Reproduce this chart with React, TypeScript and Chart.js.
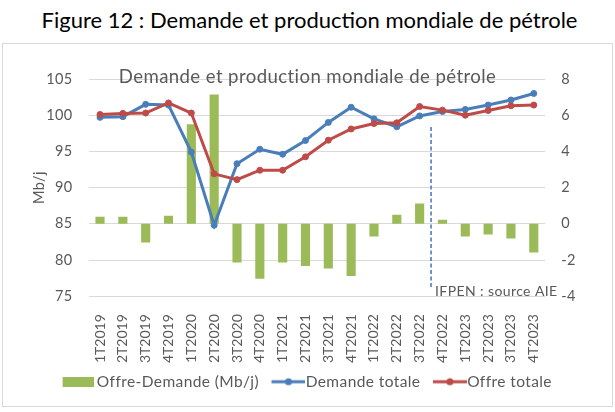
import React, { useEffect, useRef } from 'react';
import { Chart, registerables } from 'chart.js';

Chart.register(...registerables);

const FONT = 'Lato, "Liberation Sans", sans-serif';
const TEXT_GRAY = '#595959';
const GRID_GRAY = '#d9d9d9';
const GREEN = '#9BBB59';
const BLUE = '#4A7EBB';
const RED = '#BE4B48';
const DASH_BLUE = '#4472C4';

const pageTitle = 'Figure 12 : Demande et production mondiale de pétrole';
const chartTitle = 'Demande et production mondiale de pétrole';
const sourceText = 'IFPEN : source AIE';
const leftAxisTitle = 'Mb/j';

const categories = [
  '1T2019', '2T2019', '3T2019', '4T2019',
  '1T2020', '2T2020', '3T2020', '4T2020',
  '1T2021', '2T2021', '3T2021', '4T2021',
  '1T2022', '2T2022', '3T2022', '4T2022',
  '1T2023', '2T2023', '3T2023', '4T2023',
];

const demandeTotale = [
  99.7, 99.8, 101.5, 101.4,
  94.9, 84.8, 93.3, 95.3,
  94.6, 96.5, 99.0, 101.1,
  99.5, 98.4, 99.9, 100.5,
  100.8, 101.4, 102.1, 103.0,
];

const offreTotale = [
  100.1, 100.25, 100.3, 101.7,
  100.3, 91.9, 91.1, 92.4,
  92.4, 94.25, 96.55, 98.1,
  98.85, 98.95, 101.2, 100.7,
  100.0, 100.65, 101.3, 101.4,
];

const offreMoinsDemande = [
  0.39, 0.39, -1.03, 0.45,
  5.5, 7.14, -2.14, -3.03,
  -2.14, -2.33, -2.47, -2.88,
  -0.7, 0.5, 1.12, 0.22,
  -0.7, -0.59, -0.81, -1.59,
];

const leftMin = 75;
const leftMax = 105;
const leftStep = 5;
const rightMin = -4;
const rightMax = 8;
const rightStep = 2;

// forecast separator (between 3T2022 and 4T2022), in category index / right-axis units
const separatorIndex = 14.5;
const separatorTop = 5.35;
const separatorBottom = -3.5;

const legendLabels = ['Offre-Demande (Mb/j)', 'Demande totale', 'Offre totale'];

const BASE_SPACING = '0.4px';
const XTICK_SPACING = '0px';

export default function App() {
  const canvasRef = useRef<HTMLCanvasElement | null>(null);

  useEffect(() => {
    const canvas = canvasRef.current;
    if (!canvas) return;

    const makeLineIcon = (color: string) => {
      const c = document.createElement('canvas');
      c.width = 41;
      c.height = 10;
      const g = c.getContext('2d')!;
      g.strokeStyle = color;
      g.lineWidth = 3;
      g.beginPath();
      g.moveTo(7, 5);
      g.lineTo(41, 5);
      g.stroke();
      g.fillStyle = color;
      g.beginPath();
      g.arc(24, 5, 3.5, 0, Math.PI * 2);
      g.fill();
      return c;
    };
    const makeBoxIcon = (color: string) => {
      const c = document.createElement('canvas');
      c.width = 35;
      c.height = 10;
      const g = c.getContext('2d')!;
      g.fillStyle = color;
      g.fillRect(4, 0, 31, 10);
      return c;
    };
    const icons = [makeBoxIcon(GREEN), makeLineIcon(BLUE), makeLineIcon(RED)];

    const setSpacing = (ctx: any, v: string) => {
      if ('letterSpacing' in ctx) ctx.letterSpacing = v;
    };

    const overlayPlugin = {
      id: 'overlay',
      beforeUpdate(chart: any) {
        setSpacing(chart.ctx, BASE_SPACING);
      },
      beforeDraw(chart: any) {
        setSpacing(chart.ctx, BASE_SPACING);
      },
      beforeDatasetsDraw(chart: any) {
        const { ctx, chartArea } = chart;
        ctx.save();
        ctx.fillStyle = TEXT_GRAY;
        ctx.font = `18.6px ${FONT}`;
        ctx.textAlign = 'center';
        ctx.textBaseline = 'alphabetic';
        ctx.fillText(chartTitle, chart.width / 2, chartArea.top + 3.7);
        ctx.restore();
      },
      afterDatasetsDraw(chart: any) {
        const { ctx, chartArea } = chart;
        const x = chart.scales.x.getPixelForValue(separatorIndex);
        const y1 = chart.scales.y1;
        ctx.save();
        ctx.strokeStyle = DASH_BLUE;
        ctx.lineWidth = 1.5;
        ctx.setLineDash([4, 2.5]);
        ctx.beginPath();
        ctx.moveTo(x, y1.getPixelForValue(separatorTop));
        ctx.lineTo(x, y1.getPixelForValue(separatorBottom));
        ctx.stroke();
        ctx.setLineDash([]);
        ctx.fillStyle = TEXT_GRAY;
        ctx.font = `14px ${FONT}`;
        ctx.textAlign = 'left';
        ctx.textBaseline = 'alphabetic';
        ctx.fillText(sourceText, x + 4, chartArea.bottom);
        ctx.restore();
        // x tick labels are drawn after this hook (z: 1)
        setSpacing(ctx, XTICK_SPACING);
      },
      afterDraw(chart: any) {
        setSpacing(chart.ctx, BASE_SPACING);
      },
    };

    const tickFont = { family: FONT, size: 14.5 };
    const xTickFont = { family: FONT, size: 14 };

    const chart = new Chart(canvas, {
      type: 'bar',
      data: {
        labels: categories,
        datasets: [
          {
            type: 'bar',
            label: legendLabels[0],
            data: offreMoinsDemande,
            yAxisID: 'y1',
            backgroundColor: GREEN,
            barPercentage: 0.4,
            categoryPercentage: 1,
            order: 3,
          },
          {
            type: 'line',
            label: legendLabels[1],
            data: demandeTotale,
            yAxisID: 'y',
            borderColor: BLUE,
            backgroundColor: BLUE,
            borderWidth: 3,
            pointRadius: 3,
            pointBorderWidth: 1,
            pointBackgroundColor: BLUE,
            pointBorderColor: BLUE,
            tension: 0,
            order: 2,
          },
          {
            type: 'line',
            label: legendLabels[2],
            data: offreTotale,
            yAxisID: 'y',
            borderColor: RED,
            backgroundColor: RED,
            borderWidth: 3,
            pointRadius: 3,
            pointBorderWidth: 1,
            pointBackgroundColor: RED,
            pointBorderColor: RED,
            tension: 0,
            order: 1,
          },
        ],
      } as any,
      options: {
        responsive: false,
        animation: false,
        devicePixelRatio: 1,
        layout: { padding: { top: 79, left: 0, right: 0, bottom: 12.5 } },
        plugins: {
          title: { display: false },
          tooltip: { enabled: false },
          legend: {
            position: 'bottom',
            labels: {
              font: { family: FONT, size: 15.5 },
              color: TEXT_GRAY,
              usePointStyle: true,
              pointStyleWidth: 26,
              boxHeight: 10,
              padding: 13,
              generateLabels: () =>
                legendLabels.map((text, i) => ({
                  text,
                  pointStyle: icons[i],
                  fillStyle: 'transparent',
                  strokeStyle: 'transparent',
                  lineWidth: 0,
                  hidden: false,
                  datasetIndex: i,
                  fontColor: TEXT_GRAY,
                })),
            },
          },
        },
        scales: {
          x: {
            grid: { display: false },
            border: { display: false },
            ticks: {
              autoSkip: false,
              maxRotation: 90,
              minRotation: 90,
              padding: 10,
              font: xTickFont,
              color: TEXT_GRAY,
              z: 1,
            },
            afterFit: (s: any) => {
              s.height = 64.8;
              // let the rotated labels run past the scale box without clipping
              s._computeLabelArea = () => undefined;
            },
          },
          y: {
            position: 'left',
            min: leftMin,
            max: leftMax,
            ticks: { stepSize: leftStep, padding: 16, font: tickFont, color: TEXT_GRAY },
            grid: { color: GRID_GRAY, drawTicks: false, lineWidth: 1 },
            border: { display: false },
            title: {
              display: true,
              text: leftAxisTitle,
              font: tickFont,
              color: TEXT_GRAY,
              padding: { top: 31, bottom: 0 },
            },
            afterFit: (s: any) => {
              s.width = 88.6;
            },
          },
          y1: {
            position: 'right',
            min: rightMin,
            max: rightMax,
            ticks: { stepSize: rightStep, padding: 16, font: tickFont, color: TEXT_GRAY },
            grid: { display: false, drawTicks: false },
            border: { display: false },
            afterFit: (s: any) => {
              s.width = 69.8;
            },
          },
        },
      } as any,
      plugins: [overlayPlugin],
    });

    return () => chart.destroy();
  }, []);

  return (
    <div style={{ position: 'absolute', left: 0, top: 0, width: 615, height: 412, background: '#fff' }}>
      <div
        style={{
          position: 'absolute',
          left: 2,
          top: 7,
          width: 615,
          textAlign: 'center',
          fontFamily: FONT,
          fontSize: 22,
          lineHeight: '26px',
          color: '#000',
          whiteSpace: 'nowrap',
        }}
      >
        {pageTitle}
      </div>
      <div
        style={{
          position: 'absolute',
          left: 2,
          top: 43,
          width: 609,
          height: 362,
          border: '1.5px solid #d9d9d9',
        }}
      />
      <canvas
        ref={canvasRef}
        width={615}
        height={412}
        style={{ position: 'absolute', left: 0, top: 0, width: 615, height: 412 }}
      />
    </div>
  );
}
